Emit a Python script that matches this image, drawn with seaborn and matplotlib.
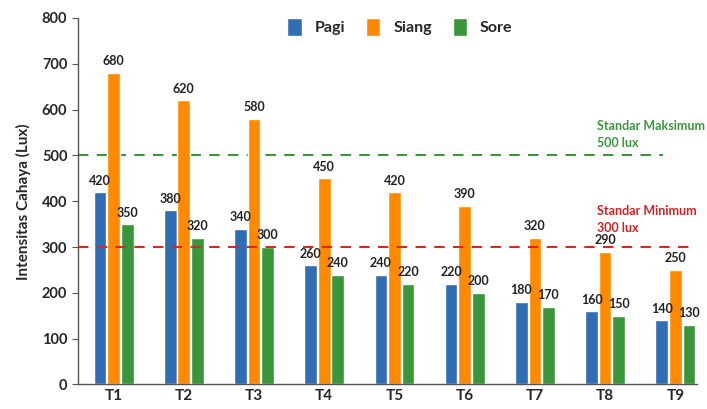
import matplotlib
matplotlib.use("Agg")
import matplotlib.pyplot as plt
import seaborn as sns
import pandas as pd

titik = ["T1", "T2", "T3", "T4", "T5", "T6", "T7", "T8", "T9"]
pagi = [420, 380, 340, 260, 240, 220, 180, 160, 140]
siang = [680, 620, 580, 450, 420, 390, 320, 290, 250]
sore = [350, 320, 300, 240, 220, 200, 170, 150, 130]
waktu = ["Pagi", "Siang", "Sore"]
warna = ["#2F6DB5", "#FF8A00", "#3A963A"]
std_maks = 500
std_min = 300

df = pd.DataFrame({
    "Titik": titik * 3,
    "Waktu": ["Pagi"] * 9 + ["Siang"] * 9 + ["Sore"] * 9,
    "Lux": pagi + siang + sore,
})

sns.set_style("white")
plt.rcParams["font.family"] = ["Lato", "DejaVu Sans"]

fig = plt.figure(figsize=(7.07, 4.09), dpi=100)
ax = fig.add_axes([0.110, 0.06, 0.876, 0.896])

sns.barplot(data=df, x="Titik", y="Lux", hue="Waktu", hue_order=waktu,
            palette=warna, width=0.58, gap=0.06, ax=ax, saturation=1,
            errorbar=None, legend=True)

for cont in ax.containers:
    ax.bar_label(cont, padding=4, fontsize=9, fontweight="bold", color="#222222")

ax.axhline(std_maks, color="#3A963A", ls=(0, (5, 4)), lw=1.5, xmax=0.945, zorder=0)
ax.axhline(std_min, color="#E52222", ls=(0, (5, 4)), lw=1.5, xmax=0.995, zorder=5)

ax.text(0.838, 0.681, "Standar Maksimum\n500 lux", transform=ax.transAxes,
        color="#3A963A", fontsize=9, fontweight="bold", va="center", ha="left",
        linespacing=1.5)
ax.text(0.838, 0.449, "Standar Minimum\n300 lux", transform=ax.transAxes,
        color="#D42020", fontsize=9, fontweight="bold", va="center", ha="left",
        linespacing=1.5)

ax.set_ylim(0, 800)
ax.set_xlim(-0.51, 8.31)
ax.set_yticks(range(0, 801, 100))
ax.set_ylabel("Intensitas Cahaya (Lux)", fontsize=11, fontweight="bold", labelpad=8)
ax.set_xlabel("")
ax.tick_params(axis="y", labelsize=10.5, length=4, color="#555555", left=True)
ax.tick_params(axis="x", labelsize=11, length=0, pad=3)
for lbl in ax.get_xticklabels() + ax.get_yticklabels():
    lbl.set_fontweight("bold")

for s in ["top", "right"]:
    ax.spines[s].set_visible(False)
for s in ["left", "bottom"]:
    ax.spines[s].set_color("#555555")
    ax.spines[s].set_linewidth(1)

leg = ax.legend(loc="center", bbox_to_anchor=(0.52, 0.975), ncol=3, frameon=False,
                fontsize=11.5, handlelength=0.9, handleheight=1.4, columnspacing=1.3,
                handletextpad=0.8)
for t in leg.get_texts():
    t.set_fontweight("bold")

fig.savefig("out.png", dpi=100)
